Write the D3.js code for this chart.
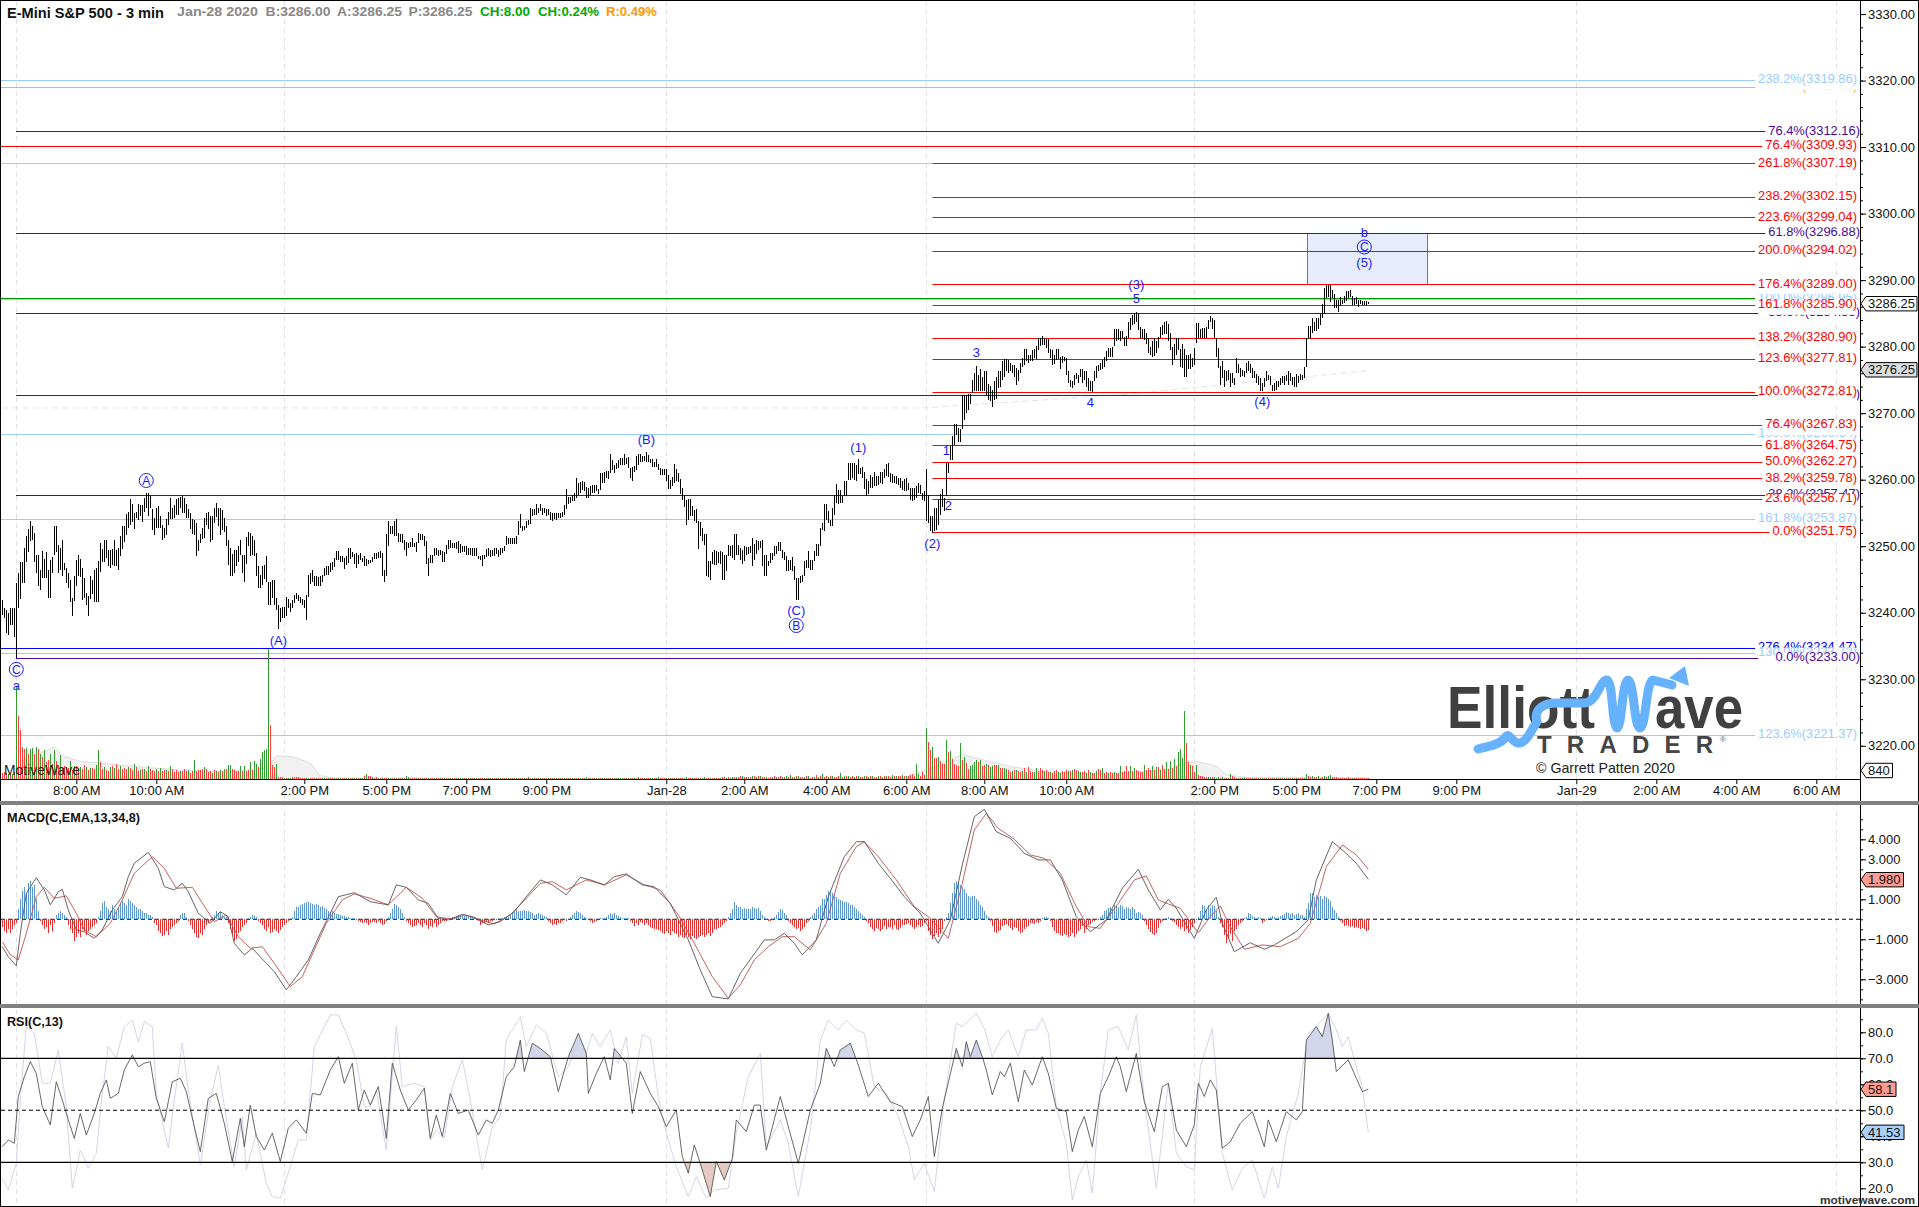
<!DOCTYPE html>
<html><head><meta charset="utf-8">
<style>html,body{margin:0;padding:0;background:#fff}svg{display:block}text{font-family:"Liberation Sans",Arial,sans-serif}</style>
<script src="https://cdnjs.cloudflare.com/ajax/libs/d3/7.8.5/d3.min.js"></script>
</head><body><svg id="c" width="1919" height="1207"></svg>
<script>
// ---------- DATA ----------
const priceBase=3200;
// high,low pairs per 3-min bar, relative to priceBase
const barHighLow=[
41.8,39.5,40.5,39,40.3,36.8,39.8,36.5,40.5,38,40.5,38,40.5,36.2,44.3,33,45.8,40.6,47.4,41.9,47.5,44.3,49.5,44.3,51.4,47.4,52.4,49,53.6,50.6,52.9,50.8,51.8,47.4,48.5,45.8,48.5,43.8,46.2,43.2,
49.1,45,47.9,45,49,45,46.2,42,47.8,42,48.2,45.8,52.9,48.5,52.9,49,50,45.8,49.5,46.3,50.8,45.4,47.3,46.2,46.5,44.3,45.8,43.5,44.8,41.4,42,39.4,45.4,41.6,47.8,43.9,48.5,45.4,47.9,45.2,
46.5,41.8,45,42,42.8,41,42.3,39.4,45.4,41.9,44.7,42.7,46.2,41.4,46.5,41.5,47.6,41.4,50.3,46,49.4,47.5,50.8,47.4,50.8,48,49.3,46.8,49.3,46.5,49.4,47,50.8,46.9,49.3,46.9,49.5,46.2,51.3,48.4,
52.8,49.4,52.9,50.5,54.7,51.5,54.9,52.5,56.9,53,56.2,53.4,54.8,52.4,55,54,56.2,53.8,56,54.4,56,53.5,57,55,57.8,55.5,57.8,54.4,57.4,55.5,55.4,52.2,54,51.5,55.5,52.5,55.9,52.6,54.3,52.5,
53,50.7,52.5,51,53.9,51.5,55,53,57,53.9,55.5,53.9,56,54,56.9,54.5,57,54.5,57.2,55.5,57.4,54.8,57,54.8,56.2,54,55.4,54,54.8,52.4,53.9,51.6,53.8,51.5,53.3,48.4,50.8,49.1,51.6,50.3,
52.5,50.9,54,51,54.8,53,54.9,52.4,54.3,50.5,54.3,50.8,55.5,53.3,56.3,54.2,55.5,52.8,55.5,51.5,55.2,52.2,54,51.9,52.9,49.8,50.8,47,49.5,45.4,48.7,45.4,49.3,45.8,49.3,46.9,49.9,47.4,50.8,48.5,
48.5,45.8,48.5,44.5,51.2,47.2,52,49.9,51.8,48.3,51.3,48.5,50.7,48.3,48.8,45.4,46.8,43.5,45.5,43.5,46.8,44,47,44.9,48.3,44.5,44.5,41,44.4,41,44.8,42,44.8,41,42,40.2,41,37.4,40.6,38.4,
40.7,39,40.7,39,42.2,39.3,41.9,40.5,41.3,39.9,41.8,40.5,42.5,41.3,42.8,41.9,42.5,41.6,42.2,41.3,41.9,41,41.8,40.6,42.5,38.7,45.5,42.2,45.8,44.2,46.2,44.5,45.4,43.9,45.3,43.9,45.2,43.9,45.3,43.9,
45.5,44.4,46.5,45.3,46.8,45.5,46.9,45.5,47.3,46,47.5,46.3,48,46.7,49.1,47.7,49.1,47.7,48.3,47.5,48.4,47.4,48,46.4,48.3,47,49.6,47.3,49.5,47.9,49,48.2,48.7,47.2,48.8,46.5,48.5,47.2,48.8,47.8,
48,47.4,48.3,46.9,47.9,46.9,47.7,47.2,47.8,47.3,48.2,47.4,48.8,47.9,48.8,47.9,48.9,48,49.1,48.1,48.8,45.3,46.3,44.5,51.6,45.3,53.6,49.9,52.9,51.6,52.9,51.6,53.6,51.4,53.9,51.4,51.8,50.5,51.6,50.5,
51.6,50.3,50.8,49.2,50.4,48.3,50.3,49.5,50.5,49.7,51,49.7,50.3,49.7,50.4,48.9,51.8,50.3,51.6,50.7,51.6,50.7,51.3,49.8,50.6,47.2,48,45.4,48.5,47.3,48.5,47.3,49.6,48.4,49.5,48.5,49.3,48.4,49.3,48.5,
49.1,47.5,48.9,47.5,50,48.7,50.8,49.4,50.8,49.5,50.3,49.5,50.3,49.5,50.5,49.4,50.6,48.8,50.2,48.8,49.9,49,49.9,49,49.9,48.5,49.6,48.5,49.5,48.5,49.5,48.4,49.5,48.3,49.5,48.3,48.4,47.9,48.3,47.7,
48.5,46.9,48.5,47.9,49.4,48.2,49.5,48.3,49.2,48.2,49.2,48.3,49.5,48.3,49.5,48.7,49.3,48.2,49.5,48.5,49.6,48.8,49.9,49.1,51.3,50,51,50.2,51,50.2,51,50.2,51,50.2,51.3,50.2,53.6,51.5,
54.7,52.55,52.8,52.05,52.9,52.3,53.55,52.55,53.8,53.05,55.55,53.2,55.4,54.3,55.4,54.55,56.2,54.55,55.55,54.8,56.15,55.05,55.55,54.55,55.55,54.8,55.4,54.3,55.4,54.55,54.9,53.8,54.8,53.55,54.8,53.9,54.8,53.8,54.8,54.05,
54.8,54.05,54.9,54.2,56.05,54.55,58.45,55.4,57.15,56.2,57.2,56.3,57.55,56.55,57.8,56.55,60,57.05,59.3,57.55,59.45,57.8,59.55,58.2,59.45,58.05,58.65,57.05,58.55,57.05,58.8,57.55,59.05,57.8,59.05,57.8,58.95,58.05,58.4,57.7,
60.8,58.3,60.9,59.3,61.05,59.3,61.2,60.05,61.2,59.9,63.7,60.8,62.8,61.3,62.05,60.8,62.3,61.4,62.8,61.55,63.05,62.05,63.05,62.05,63.7,62.05,63.05,62.2,63.2,61.55,61.55,60.05,61.8,59.55,61.9,61.05,63.4,61.3,63.65,62.05,
63.65,62.55,63.4,62.55,63.4,62.7,63.95,62.55,63.55,62.55,62.9,62.3,62.9,61.8,62.55,61.7,62.9,61.8,62.2,61.3,61.55,60.55,61.45,60.55,61.45,60.55,61.45,59.55,60.55,58.4,59.7,58.4,60.2,58.8,62.2,59.3,61.4,59.55,60.8,59.4,
59.9,57.7,58.55,56.8,57.3,55.7,56.8,53.05,56.9,53.8,56.9,54.3,55.8,54.3,55.3,53.55,55.4,53.3,53.55,49.45,53.4,51.3,52.55,50.55,51.7,50.05,51.7,45.3,47.65,45.2,47.55,44.7,48.9,47.2,49.3,47.05,49.05,47.05,48.9,47.3,
49.05,47.2,48.9,44.7,48.55,44.7,48.55,46.05,50.05,48.4,49.9,48.4,50.05,48.05,51.7,47.8,51.7,48.55,50.05,48.55,49.55,47.8,49.3,47.2,49.8,47.55,49.7,48.55,49.65,48.7,49.8,48.8,51.05,46.8,50.2,47.8,50.7,48.7,50.55,49.3,
50.55,49.55,50.7,46.8,48.55,45.4,48.55,45.4,47.55,46.8,48.8,47.3,48.8,47.8,49.9,48.3,49.9,48.7,50.4,49.05,50.4,49.05,49.3,48.05,48.9,47.7,48.4,46.05,47.8,46.05,47.8,46.3,48.2,46.05,46.8,44.8,45.05,41.7,45.05,41.8,
45.3,44.3,45.55,44.4,47.65,45.3,47.8,46.55,49.05,46.55,47.8,46.2,47.8,46.2,49.15,47.55,50.2,48.4,50.2,48.4,52.55,49.9,53.3,52.3,56.2,52.05,56.2,53.8,55.05,53.3,53.8,52.8,55.55,52.9,57.55,54.55,59.2,56.3,58.2,56.2,
58.2,56.3,57.4,56.3,59.55,57.4,59.65,57.4,62.3,59.8,62.3,59.7,62.3,60.05,62.3,59.7,62.05,59.55,62.9,60.7,61.55,60.7,61.7,60.05,61.05,58.4,59.9,57.3,59.55,57.7,60.55,58.55,60.2,58.55,61.05,58.8,60.4,58.8,60.3,59.05,
61.05,59.3,61.05,59.2,61.4,60.05,62.2,60.3,62.3,60.2,60.8,59.4,60.65,59.3,60.4,59.3,60.4,59.2,60.05,59.05,60.05,58.55,59.55,58.3,59.9,58.05,60.05,58.05,59.3,58.2,58.55,56.8,58.55,56.55,58.55,56.8,58.9,57.05,59.3,57.8,
59.05,57.7,57.8,56.7,58.05,56.55,61.4,53.55,57.55,53.3,54.3,52.05,54.3,51.8,55.55,52.05,55.55,52.3,56.7,53.05,57.7,54.55,58.4,55.7,57.05,55.05,62.4,57.3,62.4,60.8,64.83,62.83,66.33,62.83,68.2,65.1,68.2,66.6,67.6,65.5,67.4,65.5,
72.6,67.4,72.6,68.8,72.6,69.8,72.7,70.3,72.7,71.2,74.8,72.8,75.8,73.1,76.9,73.1,75.6,73.2,76.4,73.1,75.3,73.1,76.2,73.1,76.1,72.6,74.2,71.8,73.9,71.6,73.3,70.8,74.6,71.8,75.3,71.9,76.1,73.6,76.2,73.8,
77.6,74.8,77.9,75.3,77.9,76.1,77.8,75.8,77.3,76.1,77.1,75.8,77.1,75.3,76.6,74.1,76.3,74.6,77.3,75.8,78.1,76.8,79.4,77.1,79.4,77.7,78.6,77.3,78.6,77.7,79.3,77.7,79.5,78.1,79.9,77.9,81.1,79.3,81.1,79.9,
81.4,80.1,81.1,80.1,81,79.6,80.9,78.8,79.4,78.1,79.3,77.1,78.6,77.2,79.5,77.8,79.5,77.9,78.2,76.4,78.4,77.3,78.2,77.6,78.1,75.6,76.1,74.3,74.8,73.8,74.6,73.6,75.6,74.1,75.9,74.9,75.6,74.3,76.4,75.3,
76.4,74.3,76.1,74.8,76.1,73.8,75.1,73.1,74.6,73.1,74.6,73,76.1,74.6,76.9,75.1,77.1,76.1,77.3,76.3,77.8,76.4,78.3,76.7,79.2,77.6,79.6,78.3,79.6,78.3,79.7,78.3,82.4,79.9,82.4,80.6,82.4,80.8,82.1,80.6,
82.1,81.1,81.3,79.9,81.4,79.9,83.6,81.1,84.2,82.3,84.6,83.1,84.8,83.3,85.1,83.6,84.8,82.3,82.8,81,82.4,81.1,82.4,80.8,81.9,80.2,81.1,78.9,79.7,78.6,80.6,78.3,81.1,78.4,80.6,78.8,81.3,79.6,82.8,81.1,
83.1,81.6,83.6,81.7,83.7,81.7,83.3,80.6,81.8,79.3,79.8,77.1,80.2,77.8,81.1,78.6,81.1,79.3,79.4,76.8,80.2,76.6,79.4,75.2,78.6,75.2,78.6,76.4,78.7,76.4,78.1,76.7,79.6,77.1,83.4,80.3,83.4,81.1,82.4,81.1,
82.6,81.1,82.6,81.1,82.7,81.1,83.9,82.4,84.4,83.6,84.1,82.4,83.9,81.1,81.1,78.2,79.6,76.6,76.9,74.1,77.7,75.1,76.3,73.8,76.1,74.6,76.3,74.8,75.9,73.8,75.9,74.3,75.1,74.1,78.1,75.9,77.2,75.9,76.6,75.3,
76.3,75.4,76.2,75.2,77.4,75.8,77.7,76.1,77.2,75.8,76.6,75.1,76.1,75.1,75.7,74.3,75.4,74.1,75.1,73.1,74.4,73.1,75.1,73.8,76.1,74.6,75.6,74.8,75.4,74.1,74.1,73.1,74.3,73.1,74.6,73.3,74.6,73.8,75.1,74.1,
75.4,74.4,75.4,74.1,75.6,74.6,76.1,74.1,75.8,74.6,75.2,74.1,75.2,73.8,75.7,73.8,75.4,74.3,75.7,74.8,75.6,74.8,76.8,75.1,81.1,76.8,82.9,80.9,82.9,81.1,84.1,81.9,83.6,82.1,84.2,82.2,84.1,82.4,84.8,83.1,
86.3,84.1,88.6,84.8,89.1,87.1,89.1,87.3,89.1,86.6,88.4,87.1,87.7,85.7,86.8,85.6,86.8,85.1,87.3,85.9,86.9,86.3,87.4,86.4,88.2,86.7,88.2,87.1,88.4,87.3,87.4,86.1,87.1,86.1,87.3,86.3,86.8,85.8,86.8,86.2,86.7,86.1,86.7,86.1,86.7,86.1,86.6,86.2];
// volume per bar: positive = up bar, negative = down bar (20 per row)
const volumeSigned=[
-540,-600,-540,450,-480,420,-600,8400,-5670,-4400,-2900,-2700,2800,-2300,2700,2800,-2300,2900,-2700,2300,
-2000,2600,-1500,-1700,2300,-1400,2600,-1600,-1300,2200,-1000,-1200,-1100,-1000,1600,-800,1200,-1200,-900,1100,
-900,-1300,1100,-800,1000,-1000,-900,1300,2600,-1500,-900,1100,-800,-700,1100,-1200,1000,-1400,-900,1200,
-900,-1000,-900,1100,-1000,-800,1400,-1100,-700,800,-900,900,-700,1200,-900,-800,-700,900,-700,1000,
-700,-800,800,-700,1200,-900,-600,-800,-600,700,-700,-900,-700,800,-500,-700,1700,-700,-800,-800,
-900,1100,-900,-600,-700,500,-800,700,-600,800,-700,900,-900,1300,1300,-900,-800,-700,-700,1200,
-700,1200,-700,-800,1500,-800,1600,1400,-1100,1800,2400,2600,2700,11700,-4900,-1300,-1100,1400,-150,-180,
-150,120,-120,90,120,-150,-210,-180,-150,-90,-60,-90,60,90,-60,-60,-90,90,-60,-120,
120,90,-90,60,-60,-60,90,-60,90,120,-60,90,-60,60,-90,60,-60,90,-60,90,
120,-300,450,-240,-300,150,-120,-150,120,-120,90,-120,-60,120,90,-90,60,-90,60,-60,
90,-60,240,210,-120,-90,-60,60,-60,-60,60,-60,-60,60,-60,-60,60,-60,-60,60,
-60,60,-60,60,-60,60,-60,60,-60,90,120,-60,90,-60,60,-60,90,-60,90,-60,
-60,60,-60,90,-90,120,-60,90,-60,60,-90,60,-60,90,-60,120,-60,60,-60,90,
-60,90,-120,150,-120,90,-60,90,-60,60,-90,60,-60,120,-60,90,-60,90,-60,60,
-60,60,-60,90,-60,90,-60,90,-60,60,-60,90,210,-60,90,-60,90,-60,60,-60,
90,-60,60,-60,90,-60,120,-60,60,90,120,-60,90,-60,120,-60,60,-60,210,-90,
-60,60,-60,-90,60,90,-60,60,180,-90,-60,-60,90,-60,60,-90,60,-60,60,-60,
-60,90,210,-120,-60,60,-60,-90,60,-60,120,180,-60,-60,60,-90,60,-60,-60,60,
-150,-180,120,-150,90,150,-150,210,-180,-240,300,-180,-150,210,-180,240,-300,150,-240,300,
-180,-210,150,-120,-210,180,-240,210,-180,-270,180,-150,300,-210,360,-180,150,-270,240,-150,
-180,210,-240,300,-120,-180,210,-360,210,-240,420,-210,-240,180,-300,240,-210,-150,-270,540,
-210,270,-240,300,-180,-240,210,-270,300,-210,-180,240,-300,210,-240,270,-210,-180,300,-240,
210,-270,240,-300,-210,360,-240,270,-300,-240,330,
-240,270,-300,-360,-420,-270,1380,480,-270,-600,-330,4650,-3330,-2610,2880,-1860,-1860,2000,-1600,-1400,
-1320,3500,-2400,2520,-1770,-1400,-1260,-1170,3270,-1710,2000,-1470,-900,1200,1260,1500,1710,-1500,1700,-1200,
-1300,1400,-1260,1100,1200,-1300,-1260,1300,-1000,-1000,1000,900,-800,-600,700,-800,800,-700,-600,700,
-1000,600,-1100,-700,-650,600,1000,-700,-1000,-800,700,-800,-600,600,-500,-700,-800,600,500,-700,
-600,-800,700,-700,800,-900,-800,700,600,-600,-700,500,-800,600,-500,-500,700,-900,-800,1000,
-500,-600,500,
-600,-500,600,-500,-500,1200,-600,-700,-1200,-700,1200,-700,1000,-800,-700,-600,-600,1300,-800,-1000,
-800,1200,-800,1100,-1100,800,-1300,-900,1500,-900,1600,-1000,1800,-1200,2400,2700,1900,6120,-3210,-1560,
1300,-1200,-600,1300,-330,-270,-240,-180,-150,180,150,-150,180,120,150,-120,150,-120,120,-120,
450,-300,-180,-90,60,-60,120,180,-120,-90,-60,60,-90,-60,90,-60,60,-60,90,-60,
-60,90,-60,60,-90,120,-90,90,-60,90,-60,60,-90,120,-60,-90,
-60,60,420,-270,-150,240,-150,-150,300,-120,-150,240,-180,300,390,-210,-150,-150,-120,-120,
-120,-120,-90,-150,-120,90,-90,-120,-90,-120,-120,-120,-90,-90];
// MACD histogram per bar (20 per row)
const macdHist=[
-.4,-.6,-.7,-.5,-.7,-.5,-.3,-.2,.5,1,1.4,1.6,1.3,1.8,1.9,1.6,1.7,1,.4,-.1,
-.3,-.5,-.4,-.7,-.3,-.6,-.2,.2,.3,.4,.3,.2,.1,-.3,-.5,-.7,-1.1,-.9,-.7,-.9,
-.5,-.6,-.8,-.6,-.5,-.4,-.3,-.2,.1,.4,.8,.9,.6,.5,.4,.7,.5,.4,.6,.8,
.9,.8,.7,1,.9,.8,.7,.6,.5,.5,.4,.3,.3,.2,.2,.1,-.2,-.3,-.6,-.7,
-.85,-.8,-.6,-.8,-.5,-.4,-.3,-.2,-.1,.2,.3,.3,.1,-.1,-.3,-.5,-.7,-.9,-.95,-.7,
-.8,-.5,-.3,-.2,-.1,.1,.2,.4,.3,.35,.2,.1,.1,-.2,-.5,-.8,-1.1,-1,-.7,-.6,
-.4,-.3,-.2,.05,.1,.2,.15,.1,-.1,-.2,-.3,-.5,-.6,-.4,-.7,-.65,-.5,-.6,-.7,-.55,
-.4,-.3,-.2,-.1,0,.1,.4,.6,.6,.7,.75,.8,.85,.85,.8,.75,.7,.75,.7,.6,
.65,.55,.5,.4,.35,.4,.3,.25,.25,.2,.15,.15,.1,.1,.05,.05,.05,-.05,-.1,-.15,
-.2,-.15,-.2,-.3,-.2,-.15,-.15,-.2,-.1,-.2,-.3,-.25,-.1,.1,.3,.5,.75,.7,.6,.5,
.3,.1,-.1,-.2,-.3,-.4,-.35,-.3,-.2,-.3,-.4,-.2,-.3,-.5,-.35,-.4,-.2,-.4,-.3,-.2,
-.1,-.1,-.1,.05,.05,.1,.1,.15,.2,.15,.2,.15,.2,.1,.1,.05,.1,-.05,-.1,-.28,
-.2,-.2,-.15,-.2,-.1,-.1,-.05,-.05,.03,.03,.05,.1,.1,.1,.2,.3,.35,.45,.4,.4,
.4,.45,.4,.4,.35,.3,.2,.25,.3,.25,.2,.15,.1,-.1,-.2,-.3,-.25,-.3,-.2,-.2,
-.1,-.05,-.1,-.05,.1,.2,.3,.4,.35,.3,.2,.1,.05,-.05,-.1,-.2,-.15,-.1,0,.05,
.05,.05,.1,.2,.3,.25,.3,.2,.15,.1,.05,.05,.05,.05,-.1,-.2,-.35,-.2,-.3,-.15,
-.2,-.3,-.2,-.3,-.4,-.45,-.5,-.5,-.55,-.6,-.7,-.75,-.6,-.7,-.8,-.6,-.7,-.75,-.9,-.8,
-.9,-.95,-.8,-.9,-1,-.85,-.95,-1,-.9,-.85,-.8,-.9,-.8,-.7,-.85,-.7,-.5,-.5,-.45,-.4,
-.3,-.2,-.1,.1,.3,.5,.85,.7,.6,.6,.5,.55,.5,.5,.5,.6,.55,.5,.55,.4,
.2,.1,-.05,-.1,-.1,-.05,.1,.2,.35,.5,.45,.3,.2,-.1,-.2,-.3,-.4,-.5,-.45,-.6,
-.5,-.4,-.2,-.1,.1,.2,.3,.5,.6,.7,1,1,1.2,1.4,1.47,1.3,1.2,1.1,1,.95,
.9,.85,.85,.8,.7,.7,.6,.5,.4,.3,.2,.1,-.1,-.2,-.4,-.5,-.6,-.45,-.5,-.6,
-.5,-.35,-.5,-.4,-.4,-.5,-.3,-.5,-.55,-.45,-.3,-.3,-.25,-.2,-.3,-.4,-.5,-.4,-.3,-.4,
-.35,-.2,-.1,-.6,-.8,-1,-.85,-.7,-.9,-.75,-.5,-.1,.1,.3,.8,1.3,1.8,1.9,1.8,1.7,
1.6,1.5,1.3,1.15,1.1,1.15,1.15,1,.9,.7,.6,.4,.2,.1,-.1,-.35,-.65,-.7,-.6,-.55,
-.35,-.3,-.25,-.35,-.45,-.55,-.4,-.45,-.6,-.7,-.65,-.5,-.4,-.35,-.2,-.2,-.25,-.15,-.2,-.1,
.05,.1,.1,.05,-.1,-.4,-.6,-.7,-.7,-.8,-.85,-.75,-.8,-.9,-.85,-.7,-.9,-.75,-.6,-.5,
-.35,-.7,-.5,-.3,-.25,-.15,-.1,-.05,-.02,.1,.2,.4,.45,.55,.6,.5,.7,.65,.6,.7,
.65,.5,.6,.55,.5,.6,.5,.3,.35,.3,.2,-.1,-.3,-.5,-.65,-.75,-.8,-.7,-.45,-.2,
-.1,-.05,.05,.1,.05,-.1,-.15,-.3,-.4,-.5,-.4,-.6,-.5,-.7,-.55,-.4,-.2,-.05,.1,.4,
.7,.65,.5,.7,.55,.7,.65,.4,.1,-.2,-.4,-.8,-1.2,-1,-.75,-1.1,-.6,-.5,-.3,-.2,
-.1,.05,.1,.3,.25,.15,.1,.05,.1,.05,-.2,-.1,-.05,.05,.1,.15,.1,.05,.1,.15,
.2,.25,.35,.3,.25,.3,.2,.25,.3,.2,.2,.1,.5,.8,1.3,1.3,1.1,1.2,1.1,1.15,
1,1.15,1.1,1,.9,.6,.45,.3,.1,-.1,-.2,-.35,-.3,-.35,-.4,-.35,-.45,-.4,-.45,-.5,-.45,-.5,-.6,-.55];
// indicator traces as flat bar,value pairs
const macdLine=[0,-1.37,3,-1.87,7,-2.33,9,-.7,12,1.3,17,2.08,21,1.47,24,.72,28,1.38,30,1.5,33,.47,37,-.53,41,-.62,46,-.95,50,-.53,55,.47,60,1.13,63,2.13,66,2.8,73,3.35,78,2.55,81,1.63,86,1.47,90,1.8,93,1.38,98,.3,104,-.2,109,.38,113,.13,116,-1.2,121,-1.78,125,-1.45,132,-2.2,136,-2.62,142,-3.53,147,-2.87,153,-2.03,159,-.7,164,.3,168,1.13,176,1.33,184,.88,193,.72,197,1.72,202,1.6,208,.97,213,.8,218,.05,223,-.03,230,.25,236,.1,243,-.28,249,-.12,256,.38,262,1.13,269,1.97,275,1.72,282,1.22,289,2.1,294,1.97,301,1.72,306,2.13,312,2.27,320,1.72,326,1.63,334,.8,343,-1.03,349,-2.53,355,-3.87,363,-3.98,369,-2.7,375,-1.87,381,-1.03,386,-1.03,391,-.7,396,-1.2,400,-1.78,407,-1.03,413,1.13,421,3.13,427,3.88,431,3.88,438,2.8,444,2.05,451,1.13,459,.3,468,-1.2,474,-.03,480,2.72,486,5.13,491,5.5,497,4.38,504,4.05,511,3.3,518,2.97,524,2.97,530,1.97,537,.13,544,-.62,552,-.03,560,1.55,568,2.5,573,1.47,579,.47,583,1,587,.55,596,-.95,602,.47,607,1.1,610,-.2,616,-1.62,624,-1.17,631,-1.5,636,-1.28,647,-.62,653,-.03,657,1.97,665,3.88,671,3.38,677,2.8,683,2];
const macdSignal=[0,-1.12,4,-1.78,8,-2.03,12,-.7,17,1.13,21,1.6,26,1.05,32,1.17,37,.3,41,-.53,47,-.87,54,-.2,60,.97,66,2.3,75,3.13,81,2.55,87,1.55,95,1.6,99,.97,106,-.12,112,.22,118,-.87,124,-1.45,130,-1.37,136,-2.2,144,-3.37,150,-2.87,156,-1.53,162,-.2,170,.97,176,1.27,184,1.05,193,.72,202,1.6,210,1.05,217,.13,225,0,231,.22,239,-.03,246,-.23,254,.22,262,1.05,269,1.8,275,1.88,282,1.47,292,1.97,301,1.72,312,2.22,321,1.72,329,1.47,338,.22,346,-1.2,355,-2.87,363,-3.95,369,-3.28,376,-2.03,383,-1.37,390,-.87,396,-.87,404,-1.53,412,-.2,419,2.3,427,3.63,431,3.88,438,3.13,447,1.97,456,.63,464,.05,473,-.95,480,1.8,486,4.47,492,5.3,498,4.55,506,4,514,3.22,521,3.05,529,2.3,537,.63,543,-.37,549,-.45,558,.8,566,1.97,572,2.17,578,.97,583,.77,589,.55,598,-.67,604,.13,609,.67,613,-.2,621,-1.5,630,-1.28,639,-1.37,648,-.95,654,-.2,662,2.63,670,3.72,677,3.22,683,2.5];
const rsiLine=[0,36,3,38.6,6,37.3,8,55.3,11,62.9,14,68.7,17,64.2,20,51.4,24,44.4,27,61,30,54,33,46.3,36,39.2,39,48.8,42,40.5,46,48.8,49,56.5,52,61.7,54,54.6,58,56.5,61,65.5,65,71.3,68,66.8,71,68.1,74,68.7,77,54.6,81,45.6,85,61,89,62.3,92,57.2,96,43.7,99,34.1,103,54.6,107,56.5,111,45,115,30.3,119,46.9,121,36,124,52,127,39.9,131,34.7,135,41.2,139,30.3,143,43.1,147,46.3,152,41.2,155,56.5,159,55.9,164,65.5,168,70.6,171,60.4,175,68.1,178,50.1,181,57.8,184,52,188,59.1,192,39.2,195,68.1,199,57.8,203,50.1,207,54,211,58.5,214,39.2,217,48.2,220,39.9,224,56.5,228,48.8,233,50.1,238,40.5,242,46.3,245,45,248,50.1,252,62.9,256,66.8,259,77,261,64.9,265,75.8,269,73.8,274,70.6,278,57.2,283,70.6,288,79.6,292,71.9,293,56.5,297,64.2,301,70.6,304,61.7,306,73.8,312,68.1,315,48.8,319,64.9,324,56.5,328,51.4,332,43.7,337,50.1,340,32.2,343,25.8,346,36.7,350,27,354,16.8,357,30.3,361,23.2,365,31.5,367,46.3,372,41.8,376,52,379,52,382,34.7,389,55.3,393,43.7,398,29.6,404,50.1,409,60.4,412,73.8,416,66.8,419,73.2,424,75.8,428,67.4,433,55.3,438,60.4,444,53.3,450,51.4,455,39.9,459,46.3,463,55.3,466,32.2,470,50.8,477,73.8,480,66.8,482,76.4,484,70.6,487,77,490,70.6,492,65.5,495,55.9,499,64.9,501,62.9,504,68.1,508,53.3,511,65.5,515,59.7,520,70.6,523,64.2,527,50.8,532,49.5,535,34.1,538,42.4,541,47.6,545,36,549,56.5,553,62.9,557,70.6,559,66.8,562,57.2,567,71.9,571,53.3,576,41.8,580,59.1,583,60.4,587,42.4,592,36,596,44.4,598,60.4,601,55.3,604,61.7,607,57.8,610,35.4,614,37.9,619,45,625,49.5,631,36,633,46.3,637,37.9,642,49.5,647,46.3,650,49.5,652,77,657,82.2,660,78.3,663,87.3,665,77,667,64.9,673,69.4,677,62.3,680,57.2,683,58.1];
const rsiPale=[0,23.8,3,19.4,7,29.6,9,54,12,82.2,16,79.6,20,60.4,24,60.4,28,73.2,32,51.4,35,20,39,34.7,43,27.7,47,33.5,50,56.5,53,74.5,57,70,61,82.2,65,84.7,68,76.4,71,84.1,75,82.2,77,56.5,83,35.4,86,54,90,75.8,93,57.8,99,29,104,54,108,67.4,111,51.4,116,28.3,120,47.6,122,27,127,41.2,132,21.9,135,16.8,139,16.2,144,28.3,148,38.6,152,38.6,156,74.5,164,86.7,168,86.7,172,79.6,177,69.4,181,51.4,184,51.4,187,57.8,192,34.7,197,82.2,200,59.1,206,60.4,211,59.1,214,38.6,217,42.4,221,39.2,225,59.1,230,69.4,234,54,240,27,245,43.7,249,47.6,252,77,259,86,262,74.5,267,82.8,272,79.6,278,62.9,283,66.8,288,77,292,71.9,295,79.6,299,74.5,304,80.9,308,68.1,312,78.3,315,56.5,320,79,324,77.7,328,55.3,332,41.2,337,28.3,343,16.8,347,24.5,352,16.2,356,19.4,363,20,367,41.2,373,62.9,379,71.9,382,36,389,46.3,393,37.3,398,16.8,404,42.4,409,77,413,84.7,418,80.9,422,84.7,427,80.9,431,79.6,436,59.1,442,56.5,448,47.6,453,36,456,23.2,461,29.6,466,18.7,471,54,477,83.5,480,82.2,487,87.3,491,81.5,495,70.6,499,77,503,80.9,508,70.6,512,80.9,517,80.9,520,85.4,523,79.6,527,51.4,532,37.3,535,15.5,538,24.5,542,30.9,545,18.1,549,56.5,553,80.9,558,82.2,563,73.2,567,86.7,571,54,577,20,583,60.4,587,33.5,592,28.3,596,27,599,66.8,605,81.5,610,33.5,615,19.4,620,27.7,625,30.9,631,16.2,635,28.3,638,20,642,39.9,648,56.5,653,79.6,657,82.2,663,87.3,667,80.9,670,74.5,673,78.3,677,66.8,680,59.1,683,41.53];
const volumeAverage=[8,0,11,1800,18,2280,26,2880,31,2040,39,1590,49,1440,66,1140,82,900,99,690,116,690,132,990,137,2100,146,1980,154,1440,159,300,166,90,230,60,450,60,462,810,470,1410,480,2220,492,1650,505,1110,521,660,538,510,555,450,571,660,585,960,592,1530,598,1560,607,1170,612,360,621,150,648,150,683,90];
const priorAverage=[0,3270.6,460,3270.6,560,3272.6,684,3276.25];
// fib levels, one family per colour
const lightPrices=[3319.86,3307.34,3286.95,3266.64,3253.87,3233.72,3221.37];
const lightLabels=["238.2%(3319.86)","100.0%(3307.34)","100.0%(3286.95)","100.0%(3266.64)","161.8%(3253.87)","130.0%(3233.72)","123.6%(3221.37)"];
const orangePrices=[3318.81];const orangeLabels=["100.0%(3318.81)"];
const greenPrices=[3287.09];const greenLabels=["100.0%(3287.09)"];
const bluePrices=[3234.47];const blueLabels=["276.4%(3234.47)"];
const purplePrices=[3312.16,3296.88,3284.83,3272.51,3257.47,3233];
const purpleLabels=["76.4%(3312.16)","61.8%(3296.88)","38.6%(3284.83)","23.6%(3272.51)","38.2%(3257.47)","0.0%(3233.00)"];
const redLongPrices=[3309.93];const redLongLabels=["76.4%(3309.93)"];
const redPrices=[3307.19,3302.15,3299.04,3294.02,3289,3285.9,3280.9,3277.81,3272.81,3267.83,3264.75,3262.27,3259.78,3256.71,3251.75];
const redLabels=["261.8%","238.2%","223.6%","200.0%","176.4%","161.8%","138.2%","123.6%","100.0%","76.4%","61.8%","50.0%","38.2%","23.6%","0.0%"];
// wave annotations
const waveLabels=["a","(A)","(B)","(1)","(C)","(2)","1","2","3","4","(3)","5","(4)","(5)","b"];
const waveBars=[7,138,322,428,397,465,472,473,487,544,567,567,630,681,681];
const wavePrices=[3228.9,3235.7,3265.8,3264.7,3240.1,3250.2,3264.2,3256,3278.9,3271.4,3289.2,3287,3271.5,3292.4,3297];
const circledLabels=["C","A","B","C"];
const circledBars=[7,72,397,681];
const circledPrices=[3231.3,3259.7,3237.9,3294.8];
// axes
const priceTicks=[3330,3320,3310,3300,3290,3280,3270,3260,3250,3240,3230,3220];
const timeBars=[37,77,151,192,232,272,332,371,412,452,491,532,606,647,687,727,787,827,867,907];
const timeLabels=["8:00 AM","10:00 AM","2:00 PM","5:00 PM","7:00 PM","9:00 PM","Jan-28","2:00 AM","4:00 AM","6:00 AM","8:00 AM","10:00 AM","2:00 PM","5:00 PM","7:00 PM","9:00 PM","Jan-29","2:00 AM","4:00 AM","6:00 AM"];
const gridBars=[7,141,332,462,596,787,917];
const macdTicks=[4,3,1,-1,-3];
const rsiTicks=[80,70,60,50,40,30,20];
const header=[["Jan-28 2020","#888"],["B:3286.00","#888"],["A:3286.25","#888"],["P:3286.25","#888"],["CH:8.00","#0a0"],["CH:0.24%","#0a0"],["R:0.49%","#f90"]];

// ---------- LAYOUT ----------
const AX=1860,PB=779;
const svg=d3.select("#c");
const x=d3.scaleLinear().domain([0,1]).range([2.3,4.3]);
const yP=d3.scaleLinear().domain([3319.86,3233]).range([80.3,658.1]);
const yV=d3.scaleLinear().domain([0,840]).range([PB,PB-9.3]);
const yM=d3.scaleLinear().domain([0,1]).range([919.3,899.3]);
const yR=d3.scaleLinear().domain([50,70]).range([1110.3,1058.3]);
const pairs=a=>d3.range(0,a.length-1,2).map(i=>[a[i],a[i+1]]);
const defs=svg.append("defs");
defs.append("clipPath").attr("id","pc").append("rect").attr("x",0).attr("y",0).attr("width",AX).attr("height",PB);
defs.append("clipPath").attr("id","hi").append("rect").attr("x",0).attr("y",1006).attr("width",AX).attr("height",yR(70)-1006);
defs.append("clipPath").attr("id","lo").append("rect").attr("x",0).attr("y",yR(30)).attr("width",AX).attr("height",1206-yR(30));

// grid
svg.append("g").selectAll("line").data(gridBars).join("line").attr("x1",x).attr("x2",x).attr("y1",1).attr("y2",1206)
 .attr("stroke","#e2e2e2").attr("stroke-dasharray","5,4").attr("shape-rendering","crispEdges");
svg.append("path").attr("d",d3.line().x(d=>x(d[0])).y(d=>yP(d[1]))(pairs(priorAverage))).attr("fill","none").attr("stroke","#e4e4e4").attr("stroke-dasharray","6,4");

// blue box
svg.append("rect").attr("x",x(652.5)).attr("y",yP(3296.88)).attr("width",x(712.5)-x(652.5)).attr("height",yP(3289.2)-yP(3296.88))
 .attr("fill","#e6ecfb").attr("stroke","#4a78e8").attr("shape-rendering","crispEdges");

// fib levels
const LG=svg.append("g"),BG=svg.append("g");
function family(prices,labels,color,startX,right){
 prices.forEach((p,i)=>{
  const yy=yP(p),ly=Math.floor(yy)+.5;
  const g=BG.append("g");
  const r=g.append("rect");
  const t=g.append("text").attr("x",right).attr("y",yy+3).attr("text-anchor","end").attr("fill",color).attr("font-size",12.9).text(labels[i]);
  const w=t.node().getComputedTextLength();
  r.attr("x",right-w).attr("y",yy-5.5).attr("width",w).attr("height",15).attr("fill","#fff");
  LG.append("line").attr("x1",startX).attr("x2",right-w-3).attr("y1",ly).attr("y2",ly).attr("stroke",color).attr("stroke-width",1);
 });
}
const R=1857,RP=1860;
family(bluePrices,blueLabels,"#0000ff",1,R);
family(orangePrices,orangeLabels,"#f2b632",1,R);
family(greenPrices,greenLabels,"#009900",1,R);
family(lightPrices,lightLabels,"#99ccff",1,R);
family(purplePrices,purpleLabels,"#4b0a99",16,RP);
family(redLongPrices,redLongLabels,"#ff0000",1,R);
family(redPrices.map(p=>p+.15),redPrices.map((p,i)=>redLabels[i]+"("+p.toFixed(2)+")"),"#ff0000",932.5,R);
LG.append("line").attr("x1",1).attr("x2",1754).attr("y1",Math.floor(yP(3287.09))+.5).attr("y2",Math.floor(yP(3287.09))+.5).attr("stroke","#009900").attr("stroke-width",1);

// volume
const vol=svg.append("g").attr("clip-path","url(#pc)");
vol.append("path").attr("d",d3.area().x(d=>x(d[0])).y0(PB).y1(d=>yV(d[1]))(pairs(volumeAverage))).attr("fill","#f1f1f1").attr("stroke","#dedede");
vol.selectAll("line").data(volumeSigned).join("line").attr("x1",(d,i)=>x(i)).attr("x2",(d,i)=>x(i)).attr("y1",PB).attr("y2",d=>yV(Math.abs(d)))
 .attr("stroke",d=>d>0?"#2f9e2f":"#ff3b3b").attr("shape-rendering","crispEdges");

// price bars
const hl=pairs(barHighLow);
svg.append("g").selectAll("line").data(hl).join("line").attr("x1",(d,i)=>x(i)).attr("x2",(d,i)=>x(i))
 .attr("y1",d=>yP(priceBase+d[0])).attr("y2",d=>yP(priceBase+d[1])).attr("stroke","#000").attr("shape-rendering","crispEdges");

// wave labels
const WC="#1a1aff";
svg.append("g").selectAll("text").data(waveLabels).join("text").attr("x",(d,i)=>x(waveBars[i])).attr("y",(d,i)=>yP(wavePrices[i])+4.5)
 .attr("text-anchor","middle").attr("fill",WC).attr("font-size",13).text(d=>d);
const cg=svg.append("g").selectAll("g").data(circledLabels).join("g").attr("transform",(d,i)=>`translate(${x(circledBars[i])},${yP(circledPrices[i])})`);
cg.append("circle").attr("r",7).attr("fill","none").attr("stroke",WC);
cg.append("text").attr("y",4.3).attr("text-anchor","middle").attr("fill",WC).attr("font-size",12).text(d=>d);

// logo
const logo=svg.append("g");
const logoType=(t,lx,w)=>logo.append("text").attr("x",lx).attr("y",728).attr("font-family","'Open Sans'").attr("font-weight",700).attr("font-size",60).attr("fill","#404040").attr("textLength",w).attr("lengthAdjust","spacingAndGlyphs").text(t);
logoType("Elliott",1447,148);
logo.append("path").attr("d","M1478,749 C1490,746 1500,744 1505,738 C1510,730 1512,745 1520,743 C1528,741 1532,728 1537,722 C1533,708 1545,703 1557,703 L1585,703 C1597,702 1600,680 1607,680 C1613,680 1612,728 1617,728 C1622,728 1622,680 1628,680 C1634,680 1634,728 1640,728 C1646,728 1646,680 1653,680 L1672,685")
 .attr("fill","none").attr("stroke","#66b2ff").attr("stroke-width",9).attr("stroke-linecap","round").attr("stroke-linejoin","round");
logo.append("path").attr("d","M1669,678 L1685,666 L1689,686 Z").attr("fill","#66b2ff");
logoType("ave",1655,88);
logo.append("text").attr("x",1537).attr("y",753).attr("font-family","'Liberation Serif'").attr("font-weight",700).attr("font-size",24).attr("fill","#444").attr("textLength",176).text("TRADER");
logo.append("text").attr("x",1720).attr("y",742).attr("font-size",8).attr("fill","#666").text("®");
logo.append("text").attr("x",1536).attr("y",773).attr("font-size",14.2).attr("fill","#222").text("© Garrett Patten 2020");
svg.append("text").attr("x",4).attr("y",775).attr("font-size",15).attr("fill","#222").attr("textLength",76).attr("lengthAdjust","spacingAndGlyphs").text("MotiveWave");

// MACD
svg.append("line").attr("x1",1).attr("x2",AX).attr("y1",yM(0)).attr("y2",yM(0)).attr("stroke","#000").attr("stroke-dasharray","4,3").attr("stroke-width",1.1);
svg.append("g").selectAll("line").data(macdHist).join("line").attr("x1",(d,i)=>x(i)).attr("x2",(d,i)=>x(i)).attr("y1",yM(0)).attr("y2",d=>yM(d))
 .attr("stroke",d=>d>0?"#5a9ad0":"#e03030").attr("shape-rendering","crispEdges");
const lineM=d3.line().x(d=>x(d[0])).y(d=>yM(d[1]));
svg.append("path").attr("d",lineM(pairs(macdSignal))).attr("fill","none").attr("stroke","#c05050").attr("stroke-width",.9);
svg.append("path").attr("d",lineM(pairs(macdLine))).attr("fill","none").attr("stroke","#555").attr("stroke-width",.9);

// RSI
const lineR=d3.line().x(d=>x(d[0])).y(d=>yR(d[1]));
const rp=pairs(rsiLine);
svg.append("path").attr("clip-path","url(#hi)").attr("d",d3.area().x(d=>x(d[0])).y0(yR(70)).y1(d=>yR(d[1]))(rp)).attr("fill","#d3d6ea");
svg.append("path").attr("clip-path","url(#lo)").attr("d",d3.area().x(d=>x(d[0])).y0(yR(30)).y1(d=>yR(d[1]))(rp)).attr("fill","#e6c9c3");
svg.append("path").attr("d",lineR(pairs(rsiPale))).attr("fill","none").attr("stroke","#cfcfe8").attr("stroke-width",.9);
svg.append("path").attr("d",lineR(rp)).attr("fill","none").attr("stroke","#444").attr("stroke-width",.8);
[70,30].forEach(v=>svg.append("line").attr("x1",1).attr("x2",AX).attr("y1",yR(v)).attr("y2",yR(v)).attr("stroke","#000").attr("stroke-width",1.2));
svg.append("line").attr("x1",1).attr("x2",AX).attr("y1",yR(50)).attr("y2",yR(50)).attr("stroke","#000").attr("stroke-dasharray","4,3").attr("stroke-width",1.1);

// axes
function yAxis(scale,major,minor,fmt,dy){
 const g=svg.append("g").attr("transform",`translate(${AX},${dy})`);
 g.append("g").call(d3.axisRight(scale).tickValues(minor).tickSize(3).tickFormat("")).call(s=>s.select(".domain").remove());
 g.append("g").call(d3.axisRight(scale).tickValues(major).tickSize(6).tickPadding(2).tickFormat(fmt)).call(s=>s.select(".domain").remove())
  .selectAll("text").attr("font-size",13).attr("font-family","'Liberation Sans'").attr("fill","#111");
}
yAxis(yP,priceTicks,d3.range(3220,3331,2),d3.format(".2f"),1.2);
yAxis(yM,macdTicks,d3.range(-4,5.5,.5),d3.format(".3f"),0);
yAxis(yR,rsiTicks,d3.range(20,86,5),d3.format(".1f"),0);
const tg=svg.append("g").attr("transform",`translate(0,${PB})`).call(d3.axisBottom(x).tickValues(timeBars).tickSize(5).tickPadding(2).tickFormat((d,i)=>timeLabels[i]));
tg.select(".domain").remove();
tg.selectAll("text").attr("font-size",13).attr("font-family","'Liberation Sans'").attr("fill","#111");
// frames
const frame=(x1,y1,x2,y2,w,c)=>svg.append("line").attr("x1",x1).attr("y1",y1).attr("x2",x2).attr("y2",y2).attr("stroke",c||"#000").attr("stroke-width",w||1).attr("shape-rendering","crispEdges");
frame(0,.5,1919,.5);frame(.5,0,.5,1207);frame(AX+.5,0,AX+.5,1206);frame(0,PB+.5,AX,PB+.5);frame(0,1206.5,1919,1206.5);frame(1918.5,0,1918.5,1207);
frame(0,802.7,1919,802.7,4,"#808080");frame(0,1006,1919,1006,4,"#808080");
// value tags
function tag(yc,txt,right,fill){
 const l=1861,t=yc-7.2,b=yc+7.2;
 svg.append("path").attr("d",`M${l},${yc} L${l+5},${t} L${right},${t} L${right},${b} L${l+5},${b} Z`).attr("fill",fill).attr("stroke","#000");
 svg.append("text").attr("x",l+7).attr("y",yc+4.6).attr("font-size",13).attr("fill","#111").text(txt);
}
tag(303.7,"3286.25",1917,"#fff");tag(369.8,"3276.25",1917,"#ddd");tag(770.5,"840",1892.5,"#fff");
tag(yM(1.98),"1.980",1903.5,"#ff9c94");tag(yR(58.1),"58.1",1896,"#ff9c94");tag(yR(41.53),"41.53",1904,"#a8d0ff");
// headings
svg.append("text").attr("x",7).attr("y",18).attr("font-size",14.6).attr("font-weight",700).attr("fill","#111").attr("textLength",157).attr("lengthAdjust","spacingAndGlyphs").text("E-Mini S&P 500 - 3 min");
const hx=[177,265.6,337,408.5,480,538,606],hw=[81,65,65,64,50,61,51];
header.forEach((h,i)=>svg.append("text").attr("x",hx[i]).attr("y",16).attr("font-size",13.3).attr("font-weight",700).attr("fill",h[1]).attr("textLength",hw[i]).attr("lengthAdjust","spacingAndGlyphs").text(h[0]));
svg.append("text").attr("x",7).attr("y",822).attr("font-size",13).attr("font-weight",700).attr("fill","#111").attr("textLength",133).attr("lengthAdjust","spacingAndGlyphs").text("MACD(C,EMA,13,34,8)");
svg.append("text").attr("x",7).attr("y",1025.5).attr("font-size",13).attr("font-weight",700).attr("fill","#111").attr("textLength",56).attr("lengthAdjust","spacingAndGlyphs").text("RSI(C,13)");
svg.append("text").attr("x",1820).attr("y",1204).attr("font-size",11).attr("font-weight",700).attr("fill","#333").attr("textLength",95).attr("lengthAdjust","spacingAndGlyphs").text("motivewave.com");
</script></body></html>
